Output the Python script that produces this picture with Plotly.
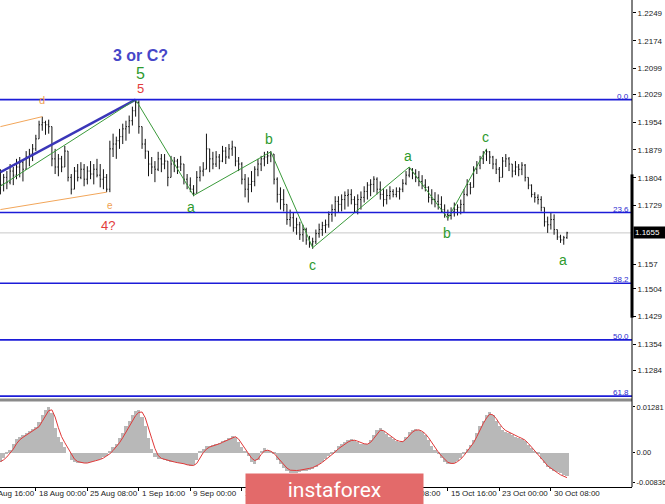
import plotly.graph_objects as go

# ---------------- data ----------------
opens = [1.1773, 1.1786, 1.1805, 1.1792, 1.1822, 1.1811, 1.1833, 1.1846, 1.1827, 1.1860,
         1.1868, 1.1882, 1.1909, 1.1947, 1.1953, 1.1947, 1.1942, 1.1855, 1.1833, 1.1855,
         1.1833, 1.1876, 1.1805, 1.1773, 1.1822, 1.1805, 1.1827, 1.1800, 1.1822, 1.1814,
         1.1827, 1.1811, 1.1800, 1.1805, 1.1773, 1.1882, 1.1895, 1.1904, 1.1915, 1.1936,
         1.1942, 1.1958, 1.1985, 1.2007, 1.1942, 1.1895, 1.1876, 1.1841, 1.1833, 1.1827,
         1.1855, 1.1841, 1.1849, 1.1805, 1.1841, 1.1849, 1.1833, 1.1841, 1.1800, 1.1784,
         1.1773, 1.1762, 1.1805, 1.1822, 1.1827, 1.1882, 1.1855, 1.1841, 1.1860, 1.1849,
         1.1876, 1.1860, 1.1882, 1.1887, 1.1849, 1.1841, 1.1800, 1.1773, 1.1786, 1.1794,
         1.1827, 1.1841, 1.1855, 1.1860, 1.1863, 1.1868, 1.1800, 1.1759, 1.1745, 1.1732,
         1.1691, 1.1696, 1.1669, 1.1677, 1.1650, 1.1664, 1.1636, 1.1625, 1.1631, 1.1653,
         1.1664, 1.1675, 1.1677, 1.1705, 1.1718, 1.1740, 1.1732, 1.1745, 1.1756, 1.1759,
         1.1745, 1.1732, 1.1745, 1.1751, 1.1767, 1.1784, 1.1786, 1.1800, 1.1773, 1.1759,
         1.1745, 1.1756, 1.1767, 1.1759, 1.1767, 1.1773, 1.1789, 1.1811, 1.1827, 1.1816,
         1.1805, 1.1794, 1.1784, 1.1778, 1.1751, 1.1745, 1.1740, 1.1732, 1.1718, 1.1705,
         1.1702, 1.1713, 1.1718, 1.1724, 1.1732, 1.1759, 1.1786, 1.1778, 1.1827, 1.1838,
         1.1855, 1.1868, 1.1874, 1.1860, 1.1841, 1.1827, 1.1805, 1.1849, 1.1855, 1.1841,
         1.1822, 1.1833, 1.1827, 1.1838, 1.1805, 1.1784, 1.1759, 1.1751, 1.1745, 1.1724,
         1.1685, 1.1677, 1.1691, 1.1664, 1.1644, 1.1636, 1.1642]
highs = [1.1827, 1.1814, 1.1822, 1.1841, 1.1833, 1.1855, 1.1860, 1.1849, 1.1876, 1.1882,
         1.1895, 1.1920, 1.1958, 1.1969, 1.1958, 1.1961, 1.1942, 1.1882, 1.1868, 1.1863,
         1.1890, 1.1876, 1.1814, 1.1833, 1.1841, 1.1846, 1.1841, 1.1835, 1.1849, 1.1841,
         1.1855, 1.1841, 1.1827, 1.1814, 1.1904, 1.1923, 1.1915, 1.1936, 1.1950, 1.1958,
         1.1972, 1.1996, 1.2015, 1.2013, 1.1942, 1.1909, 1.1876, 1.1860, 1.1849, 1.1874,
         1.1868, 1.1868, 1.1849, 1.1863, 1.1860, 1.1855, 1.1863, 1.1841, 1.1814, 1.1805,
         1.1784, 1.1822, 1.1835, 1.1846, 1.1923, 1.1882, 1.1874, 1.1876, 1.1868, 1.1890,
         1.1887, 1.1895, 1.1904, 1.1887, 1.1860, 1.1846, 1.1814, 1.1805, 1.1822, 1.1835,
         1.1855, 1.1863, 1.1874, 1.1876, 1.1876, 1.1868, 1.1805, 1.1778, 1.1773, 1.1732,
         1.1718, 1.1710, 1.1696, 1.1685, 1.1677, 1.1669, 1.1647, 1.1642, 1.1664, 1.1680,
         1.1685, 1.1691, 1.1713, 1.1732, 1.1754, 1.1754, 1.1759, 1.1767, 1.1773, 1.1773,
         1.1754, 1.1759, 1.1767, 1.1781, 1.1792, 1.1800, 1.1808, 1.1805, 1.1794, 1.1773,
         1.1773, 1.1781, 1.1773, 1.1778, 1.1778, 1.1800, 1.1822, 1.1833, 1.1830, 1.1827,
         1.1822, 1.1811, 1.1800, 1.1781, 1.1773, 1.1765, 1.1759, 1.1754, 1.1732, 1.1718,
         1.1724, 1.1737, 1.1732, 1.1745, 1.1773, 1.1800, 1.1792, 1.1835, 1.1849, 1.1863,
         1.1876, 1.1882, 1.1876, 1.1863, 1.1855, 1.1833, 1.1860, 1.1868, 1.1860, 1.1841,
         1.1849, 1.1841, 1.1846, 1.1841, 1.1805, 1.1786, 1.1765, 1.1759, 1.1754, 1.1724,
         1.1699, 1.1710, 1.1705, 1.1664, 1.1650, 1.1647, 1.1658]
lows = [1.1759, 1.1767, 1.1773, 1.1786, 1.1784, 1.1800, 1.1805, 1.1794, 1.1827, 1.1835,
        1.1849, 1.1876, 1.1909, 1.1931, 1.1920, 1.1923, 1.1835, 1.1814, 1.1808, 1.1819,
        1.1833, 1.1794, 1.1759, 1.1773, 1.1794, 1.1800, 1.1781, 1.1786, 1.1800, 1.1786,
        1.1805, 1.1778, 1.1773, 1.1765, 1.1765, 1.1860, 1.1855, 1.1882, 1.1895, 1.1904,
        1.1923, 1.1945, 1.1969, 1.1923, 1.1882, 1.1855, 1.1808, 1.1814, 1.1792, 1.1822,
        1.1819, 1.1827, 1.1781, 1.1805, 1.1819, 1.1814, 1.1822, 1.1786, 1.1773, 1.1765,
        1.1754, 1.1762, 1.1794, 1.1808, 1.1827, 1.1819, 1.1827, 1.1833, 1.1827, 1.1846,
        1.1841, 1.1855, 1.1863, 1.1835, 1.1822, 1.1786, 1.1751, 1.1737, 1.1765, 1.1781,
        1.1808, 1.1822, 1.1835, 1.1841, 1.1846, 1.1786, 1.1737, 1.1718, 1.1713, 1.1677,
        1.1672, 1.1658, 1.1650, 1.1636, 1.1631, 1.1623, 1.1615, 1.1612, 1.1625, 1.1642,
        1.1647, 1.1655, 1.1669, 1.1685, 1.1699, 1.1710, 1.1713, 1.1718, 1.1726, 1.1732,
        1.1710, 1.1705, 1.1718, 1.1737, 1.1745, 1.1754, 1.1765, 1.1759, 1.1745, 1.1726,
        1.1732, 1.1745, 1.1751, 1.1751, 1.1745, 1.1765, 1.1784, 1.1805, 1.1800, 1.1792,
        1.1781, 1.1773, 1.1767, 1.1737, 1.1732, 1.1724, 1.1718, 1.1710, 1.1696, 1.1688,
        1.1691, 1.1699, 1.1702, 1.1705, 1.1710, 1.1754, 1.1759, 1.1778, 1.1814, 1.1827,
        1.1841, 1.1849, 1.1841, 1.1827, 1.1814, 1.1792, 1.1805, 1.1833, 1.1822, 1.1805,
        1.1811, 1.1808, 1.1811, 1.1794, 1.1773, 1.1751, 1.1737, 1.1732, 1.1713, 1.1672,
        1.1655, 1.1664, 1.1650, 1.1636, 1.1628, 1.1623, 1.1639]
closes = [1.1786, 1.1805, 1.1792, 1.1822, 1.1811, 1.1833, 1.1846, 1.1827, 1.1860, 1.1868,
          1.1882, 1.1909, 1.1947, 1.1953, 1.1947, 1.1942, 1.1855, 1.1833, 1.1855, 1.1833,
          1.1876, 1.1805, 1.1773, 1.1822, 1.1805, 1.1827, 1.1800, 1.1822, 1.1814, 1.1827,
          1.1811, 1.1800, 1.1805, 1.1773, 1.1882, 1.1895, 1.1904, 1.1915, 1.1936, 1.1942,
          1.1958, 1.1985, 1.2007, 1.1942, 1.1895, 1.1876, 1.1841, 1.1833, 1.1827, 1.1855,
          1.1841, 1.1849, 1.1805, 1.1841, 1.1849, 1.1833, 1.1841, 1.1800, 1.1784, 1.1773,
          1.1762, 1.1805, 1.1822, 1.1827, 1.1882, 1.1855, 1.1841, 1.1860, 1.1849, 1.1876,
          1.1860, 1.1882, 1.1887, 1.1849, 1.1841, 1.1800, 1.1773, 1.1786, 1.1794, 1.1827,
          1.1841, 1.1855, 1.1860, 1.1863, 1.1868, 1.1800, 1.1759, 1.1745, 1.1732, 1.1691,
          1.1696, 1.1669, 1.1677, 1.1650, 1.1664, 1.1636, 1.1625, 1.1631, 1.1653, 1.1664,
          1.1675, 1.1677, 1.1705, 1.1718, 1.1740, 1.1732, 1.1745, 1.1756, 1.1759, 1.1745,
          1.1732, 1.1745, 1.1751, 1.1767, 1.1784, 1.1786, 1.1800, 1.1773, 1.1759, 1.1745,
          1.1756, 1.1767, 1.1759, 1.1767, 1.1773, 1.1789, 1.1811, 1.1827, 1.1816, 1.1805,
          1.1794, 1.1784, 1.1778, 1.1751, 1.1745, 1.1740, 1.1732, 1.1718, 1.1705, 1.1702,
          1.1713, 1.1718, 1.1724, 1.1732, 1.1759, 1.1786, 1.1778, 1.1827, 1.1838, 1.1855,
          1.1868, 1.1874, 1.1860, 1.1841, 1.1827, 1.1805, 1.1849, 1.1855, 1.1841, 1.1822,
          1.1833, 1.1827, 1.1838, 1.1805, 1.1784, 1.1759, 1.1751, 1.1745, 1.1724, 1.1685,
          1.1677, 1.1691, 1.1664, 1.1644, 1.1636, 1.1642, 1.1655]

macd_hist = [-0.0025, -0.0015, -0.0005, 0.0008, 0.0025, 0.0039, 0.0045, 0.0050, 0.0055, 0.0060,
             0.0066, 0.0072, 0.0085, 0.0105, 0.0120, 0.0128, 0.0110, 0.0070, 0.0045, 0.0030,
             0.0015, 0.0000, -0.0020, -0.0026, -0.0028, -0.0030, -0.0030, -0.0028, -0.0025, -0.0022,
             -0.0020, -0.0017, -0.0012, -0.0008, 0.0005, 0.0015, 0.0025, 0.0040, 0.0055, 0.0075,
             0.0090, 0.0105, 0.0116, 0.0119, 0.0100, 0.0075, 0.0040, 0.0010, -0.0012, -0.0017,
             -0.0018, -0.0020, -0.0023, -0.0025, -0.0027, -0.0028, -0.0030, -0.0032, -0.0035, -0.0036,
             -0.0034, -0.0020, 0.0002, 0.0010, 0.0018, 0.0020, 0.0021, 0.0023, 0.0028, 0.0032,
             0.0036, 0.0042, 0.0048, 0.0045, 0.0030, 0.0015, 0.0005, -0.0010, -0.0025, -0.0032,
             -0.0020, 0.0003, 0.0012, 0.0008, 0.0003, -0.0005, -0.0020, -0.0032, -0.0042, -0.0052,
             -0.0058, -0.0058, -0.0056, -0.0054, -0.0052, -0.0050, -0.0048, -0.0046, -0.0040, -0.0032,
             -0.0025, -0.0018, -0.0010, -0.0003, 0.0008, 0.0018, 0.0024, 0.0030, 0.0035, 0.0039,
             0.0036, 0.0030, 0.0025, 0.0023, 0.0024, 0.0035, 0.0050, 0.0065, 0.0070, 0.0060,
             0.0052, 0.0045, 0.0038, 0.0032, 0.0030, 0.0032, 0.0045, 0.0058, 0.0065, 0.0066,
             0.0065, 0.0058, 0.0050, 0.0035, 0.0020, 0.0008, -0.0005, -0.0015, -0.0025, -0.0031,
             -0.0031, -0.0028, -0.0022, -0.0014, -0.0002, 0.0010, 0.0021, 0.0035, 0.0055, 0.0075,
             0.0090, 0.0105, 0.0114, 0.0105, 0.0090, 0.0075, 0.0065, 0.0058, 0.0055, 0.0050,
             0.0045, 0.0042, 0.0039, 0.0032, 0.0022, 0.0012, 0.0003, -0.0005, -0.0018, -0.0030,
             -0.0040, -0.0045, -0.0050, -0.0055, -0.0058, -0.0062, -0.0064]
macd_signal = [-0.0025, -0.0020, -0.0012, -0.0002, 0.0010, 0.0025, 0.0036, 0.0043, 0.0049, 0.0054,
               0.0059, 0.0065, 0.0073, 0.0088, 0.0105, 0.0118, 0.0120, 0.0100, 0.0070, 0.0045,
               0.0028, 0.0012, -0.0005, -0.0018, -0.0025, -0.0028, -0.0029, -0.0029, -0.0027, -0.0025,
               -0.0022, -0.0019, -0.0015, -0.0010, -0.0003, 0.0006, 0.0016, 0.0028, 0.0042, 0.0058,
               0.0075, 0.0090, 0.0104, 0.0113, 0.0114, 0.0098, 0.0072, 0.0040, 0.0012, -0.0008,
               -0.0016, -0.0019, -0.0022, -0.0024, -0.0026, -0.0028, -0.0029, -0.0031, -0.0034, -0.0036,
               -0.0036, -0.0030, -0.0014, 0.0000, 0.0010, 0.0016, 0.0019, 0.0021, 0.0025, 0.0029,
               0.0033, 0.0038, 0.0043, 0.0045, 0.0038, 0.0025, 0.0012, -0.0002, -0.0015, -0.0022,
               -0.0018, -0.0005, 0.0005, 0.0007, 0.0004, -0.0002, -0.0012, -0.0024, -0.0034, -0.0043,
               -0.0049, -0.0050, -0.0050, -0.0049, -0.0048, -0.0046, -0.0044, -0.0042, -0.0038, -0.0033,
               -0.0027, -0.0020, -0.0013, -0.0006, 0.0002, 0.0011, 0.0018, 0.0024, 0.0030, 0.0034,
               0.0035, 0.0032, 0.0028, 0.0025, 0.0024, 0.0029, 0.0040, 0.0053, 0.0063, 0.0062,
               0.0055, 0.0048, 0.0041, 0.0035, 0.0032, 0.0031, 0.0038, 0.0049, 0.0058, 0.0063,
               0.0064, 0.0060, 0.0053, 0.0042, 0.0028, 0.0014, 0.0002, -0.0009, -0.0019, -0.0027,
               -0.0030, -0.0030, -0.0025, -0.0018, -0.0008, 0.0004, 0.0015, 0.0028, 0.0045, 0.0065,
               0.0082, 0.0097, 0.0108, 0.0106, 0.0096, 0.0082, 0.0070, 0.0062, 0.0057, 0.0052,
               0.0048, 0.0044, 0.0040, 0.0035, 0.0026, 0.0016, 0.0006, -0.0003, -0.0014, -0.0026,
               -0.0037, -0.0044, -0.0050, -0.0056, -0.0062, -0.0067, -0.0070]

bar_index = list(range(len(closes)))

# date labels (bar index of each label); labels fully hidden by the watermark are left out
date_labels = ["10 Aug 16:00", "18 Aug 00:00", "25 Aug 08:00", "1 Sep 16:00", "9 Sep 00:00",
               "16 Sep 08:00", "8 Oct 08:00", "15 Oct 16:00", "23 Oct 00:00", "30 Oct 08:00"]
date_index = [-5, 11, 27, 43, 59, 75, 123, 139, 155, 171]
date_tick_index = [11, 27, 43, 59, 75, 91, 107, 123, 139, 155, 171]

# price axis labels
price_ticks = [1.2249, 1.2174, 1.2099, 1.2029, 1.1954, 1.1879, 1.1804, 1.1729,
               1.157, 1.1504, 1.1429, 1.1354, 1.1284, 1.1209]
price_ticktext = ["1.2249", "1.2174", "1.2099", "1.2029", "1.1954", "1.1879", "1.1804", "1.1729",
                  "1.157", "1.1504", "1.1429", "1.1354", "1.1284", "1.1209"]
macd_ticks = [0.01281, 0.0, -0.00836]
macd_ticktext = ["0.01281", "0.00", "-0.00836"]

# Fibonacci levels
fib_levels = [1.2015, 1.1710, 1.1519, 1.1366, 1.1214]
fib_names = ["0.0", "23.6", "38.2", "50.0", "61.8"]

# wave markup lines
green_wave_x = [0, 42, 60, 84, 97, 127, 139, 151]
green_wave_y = [1.1781, 1.2015, 1.1756, 1.1874, 1.1615, 1.1833, 1.1694, 1.1882]
blue_line_x = [0, 42]
blue_line_y = [1.1819, 1.2015]
orange_up_x = [0, 13]
orange_up_y = [1.1942, 1.1969]
orange_lo_x = [0, 33]
orange_lo_y = [1.1718, 1.1765]

# wave labels: (text, bar index, price, color, size, bold)
wave_labels = [
    ("3 or C?", 43.4, 1.2135, "#4646c8", 16, True),
    ("5", 43.4, 1.2086, "#2e9a2e", 16, False),
    ("5", 43.4, 1.2045, "#e23c3c", 13, False),
    ("d", 13, 1.2013, "#f0a050", 11, False),
    ("e", 34, 1.1729, "#f0a050", 10, False),
    ("4?", 33.5, 1.1675, "#e23c3c", 13, False),
    ("a", 59.3, 1.1726, "#2e9a2e", 14, False),
    ("b", 83.5, 1.1909, "#2e9a2e", 14, False),
    ("c", 96.9, 1.1568, "#2e9a2e", 14, False),
    ("a", 126.6, 1.1863, "#2e9a2e", 14, False),
    ("b", 138.8, 1.1655, "#2e9a2e", 14, False),
    ("c", 150.8, 1.1915, "#2e9a2e", 14, False),
    ("a", 174.8, 1.1582, "#2e9a2e", 14, False),
]

# ---------------- layout constants ----------------
X0, X1 = -0.13, 196.2
W, H = 665, 504
ML, MR, MT, MB = 0, 33, 0, 17
PH = H - MT - MB  # plot height in px
FONT = "Liberation Sans, Arial, sans-serif"


def py(px):
    return 1 - px / PH


def pxx(idx):
    return (idx - X0) / (X1 - X0)


fig = go.Figure()

fig.add_trace(go.Ohlc(
    x=bar_index, open=opens, high=highs, low=lows, close=closes,
    increasing=dict(line=dict(color="#111111", width=1)),
    decreasing=dict(line=dict(color="#111111", width=1)),
    tickwidth=0.3, xaxis="x", yaxis="y", showlegend=False, hoverinfo="skip"))

fig.add_trace(go.Scatter(x=orange_up_x, y=orange_up_y, mode="lines",
                         line=dict(color="#f2a65a", width=1), xaxis="x", yaxis="y",
                         showlegend=False, hoverinfo="skip"))
fig.add_trace(go.Scatter(x=orange_lo_x, y=orange_lo_y, mode="lines",
                         line=dict(color="#f2a65a", width=1), xaxis="x", yaxis="y",
                         showlegend=False, hoverinfo="skip"))
fig.add_trace(go.Scatter(x=blue_line_x, y=blue_line_y, mode="lines",
                         line=dict(color="#3a36b8", width=2.5), xaxis="x", yaxis="y",
                         showlegend=False, hoverinfo="skip"))
fig.add_trace(go.Scatter(x=green_wave_x, y=green_wave_y, mode="lines",
                         line=dict(color="#3a9a3a", width=1), xaxis="x", yaxis="y",
                         showlegend=False, hoverinfo="skip"))

fig.add_trace(go.Bar(x=bar_index, y=macd_hist, width=1.0, marker=dict(color="#b8b8b8", line=dict(width=0)),
                     xaxis="x", yaxis="y2", showlegend=False, hoverinfo="skip"))
fig.add_trace(go.Scatter(x=bar_index, y=macd_signal, mode="lines",
                         line=dict(color="#e03838", width=1), xaxis="x", yaxis="y2",
                         showlegend=False, hoverinfo="skip"))

shapes = []
# current price line
shapes.append(dict(type="line", xref="paper", x0=0, x1=1, yref="y", y0=closes[-1], y1=closes[-1],
                   line=dict(color="#c8c8c8", width=1), layer="below"))
# fib lines
for lv in fib_levels:
    shapes.append(dict(type="line", xref="paper", x0=0, x1=1, yref="y", y0=lv, y1=lv,
                       line=dict(color="#1c1cd8", width=1.6)))
# separator between panels
shapes.append(dict(type="line", xref="paper", x0=0, x1=1, yref="paper", y0=py(400), y1=py(400),
                   line=dict(color="#8a8a8a", width=3)))
# right axis line
shapes.append(dict(type="line", xref="paper", x0=1, x1=1, yref="paper", y0=0, y1=1,
                   line=dict(color="#000000", width=1)))
# thick segment on price scale
shapes.append(dict(type="line", xref="paper", x0=1, x1=1, yref="y", y0=1.1813, y1=1.1426,
                   line=dict(color="#000000", width=3)))

annotations = []
for txt, xi, yv, col, sz, bold in wave_labels:
    annotations.append(dict(x=xi, y=yv, xref="x", yref="y", text=("<b>%s</b>" % txt) if bold else txt,
                            showarrow=False, font=dict(family=FONT, size=sz, color=col)))
for lv, nm in zip(fib_levels, fib_names):
    annotations.append(dict(x=1, y=lv, xref="paper", yref="y", text=nm, showarrow=False,
                            xanchor="right", yanchor="bottom", xshift=-1, yshift=-3,
                            font=dict(family=FONT, size=8, color="#2a2ad0")))
for lab, di in zip(date_labels, date_index):
    annotations.append(dict(x=pxx(di), y=py(493), xref="paper", yref="paper", text=lab,
                            showarrow=False, xanchor="left", yanchor="middle", xshift=1,
                            font=dict(family=FONT, size=8, color="#222222")))
# current price box
annotations.append(dict(x=1, y=closes[-1], xref="paper", yref="y", text="1.1655", showarrow=False,
                        xanchor="left", yanchor="middle", xshift=1, bgcolor="#000000", borderpad=1,
                        width=30, align="left",
                        font=dict(family=FONT, size=8, color="#ffffff")))
# watermark
annotations.append(dict(x=245 / (W - MR), y=py(473), xref="paper", yref="paper", text="instaforex",
                        showarrow=False, xanchor="left", yanchor="top", width=177, height=31,
                        bgcolor="#e36a6a", borderpad=0, align="center", valign="middle",
                        font=dict(family="Roboto, Open Sans, sans-serif", size=21, color="#ffffff")))

fig.update_layout(
    width=W, height=H,
    margin=dict(l=ML, r=MR, t=MT, b=MB),
    paper_bgcolor="white", plot_bgcolor="white",
    showlegend=False, hovermode=False, bargap=0,
    xaxis=dict(domain=[0, 1], range=[X0, X1], anchor="y2", showgrid=False, zeroline=False,
               showticklabels=False, ticks="outside", ticklen=3, tickcolor="#000000",
               tickvals=date_tick_index, showline=True, linecolor="#000000", linewidth=1,
               rangeslider=dict(visible=False)),
    yaxis=dict(domain=[py(397), 1], range=[1.12117, 1.22841], side="right", anchor="x",
               showgrid=False, zeroline=False, tickvals=price_ticks, ticktext=price_ticktext,
               ticks="outside", ticklen=3, tickcolor="#000000", automargin=False,
               tickfont=dict(family=FONT, size=8, color="#222222")),
    yaxis2=dict(domain=[0, py(401)], range=[-0.00962, 0.01449], side="right", anchor="x",
                showgrid=False, zeroline=False, tickvals=macd_ticks, ticktext=macd_ticktext,
                ticks="outside", ticklen=2, tickcolor="#000000", automargin=False,
                tickfont=dict(family=FONT, size=7.5, color="#222222")),
    shapes=shapes, annotations=annotations,
)

fig.write_html("out.html", config={"displayModeBar": False},
               post_script="document.body.style.margin='0';document.body.style.padding='0';")
